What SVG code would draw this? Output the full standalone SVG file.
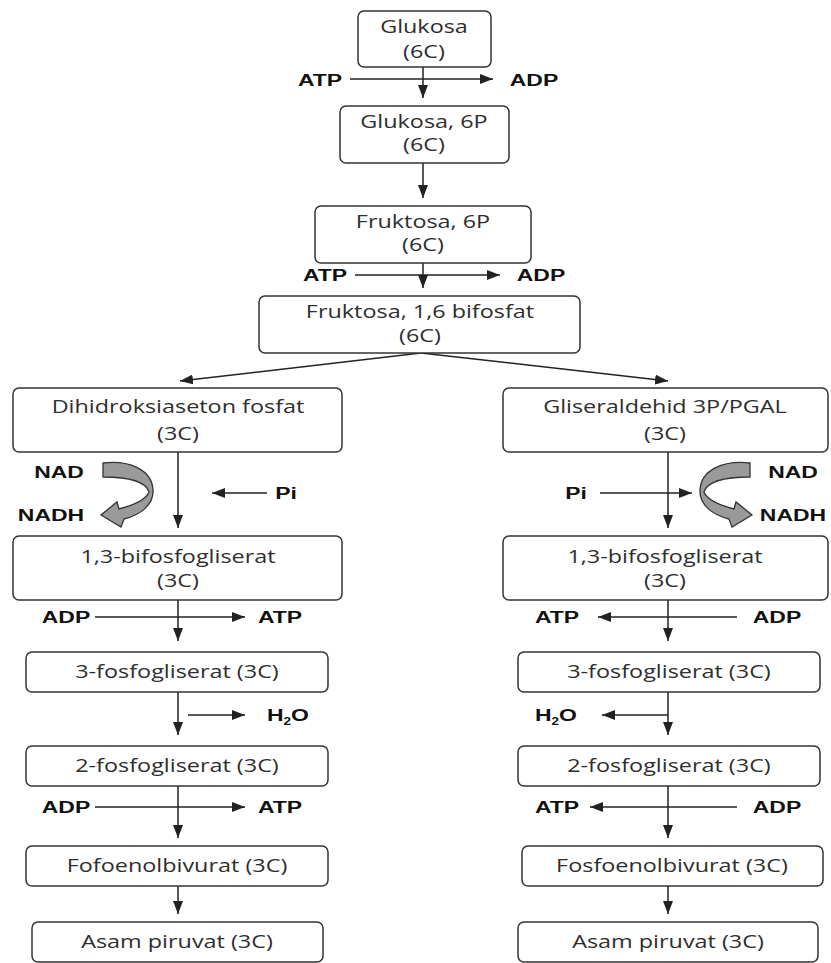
<svg xmlns="http://www.w3.org/2000/svg" width="831" height="963" viewBox="0 0 831 963">
<defs>
<style>
text { transform-box: fill-box; transform-origin: center; }
.b { fill: #fff; stroke: #333; stroke-width: 1.5; }
.t { font-family: "Open Sans", "Liberation Sans", sans-serif; font-size: 18px; fill: #2e2e2e; text-anchor: middle; transform: scaleX(1.3); }
.l { font-family: "Liberation Sans", Arial, sans-serif; font-weight: bold; font-size: 17px; fill: #111; text-anchor: middle; transform: scaleX(1.35); }
.c line { stroke: #222; stroke-width: 1.5; fill: none; }
.ca { marker-end: url(#ah); }
.g { fill: #9a9a9a; stroke: #333; stroke-width: 1.3; }
</style>
<marker id="ah" markerUnits="userSpaceOnUse" markerWidth="13" markerHeight="10" refX="13" refY="5" orient="auto">
<path d="M0,0 L13,5 L0,10 Z" fill="#222"/>
</marker>
</defs>
<rect width="831" height="963" fill="#fff"/>

<g id="connectors" class="c">
<line class="ca" x1="423" y1="67" x2="423" y2="98"/>
<line class="ca" x1="350" y1="79" x2="493" y2="79"/>
<line class="ca" x1="423" y1="163" x2="423" y2="198"/>
<line class="ca" x1="423" y1="263" x2="423" y2="288"/>
<line class="ca" x1="355" y1="275" x2="500" y2="275"/>
<line class="ca" x1="421" y1="353" x2="180" y2="381"/>
<line class="ca" x1="421" y1="353" x2="668" y2="381"/>
<line class="ca" x1="178" y1="452" x2="178" y2="528"/>
<line class="ca" x1="267" y1="493" x2="212" y2="493"/>
<line class="ca" x1="668" y1="452" x2="668" y2="528"/>
<line class="ca" x1="600" y1="493" x2="692" y2="493"/>
<line class="ca" x1="178" y1="600" x2="178" y2="641"/>
<line class="ca" x1="95" y1="617" x2="245" y2="617"/>
<line class="ca" x1="668" y1="600" x2="668" y2="641"/>
<line class="ca" x1="737" y1="617" x2="598" y2="617"/>
<line class="ca" x1="178" y1="692" x2="178" y2="735"/>
<line class="ca" x1="188" y1="715" x2="245" y2="715"/>
<line class="ca" x1="668" y1="692" x2="668" y2="735"/>
<line class="ca" x1="668" y1="715" x2="602" y2="715"/>
<line class="ca" x1="178" y1="786" x2="178" y2="838"/>
<line class="ca" x1="95" y1="807" x2="245" y2="807"/>
<line class="ca" x1="668" y1="786" x2="668" y2="838"/>
<line class="ca" x1="737" y1="807" x2="590" y2="807"/>
<line class="ca" x1="178" y1="886" x2="178" y2="914"/>
<line class="ca" x1="668" y1="886" x2="668" y2="914"/>
<path class="g" d="M103,463 C130,460 152,470 153,490 C154,505 140,515 124,519 L121,527 L101,515 L117,502 L119,509 C134,505 146,500 149,492 C146,482 132,477 103,477 Z"/>
<path class="g" transform="translate(853,0) scale(-1,1)" d="M103,463 C130,460 152,470 153,490 C154,505 140,515 124,519 L121,527 L101,515 L117,502 L119,509 C134,505 146,500 149,492 C146,482 132,477 103,477 Z"/>
</g>

<g id="labels">
<text class="l" x="320" y="86">ATP</text>
<text class="l" x="534" y="86">ADP</text>
<text class="l" x="325" y="281">ATP</text>
<text class="l" x="541" y="281">ADP</text>
<text class="l" x="59" y="478">NAD</text>
<text class="l" x="51" y="521">NADH</text>
<text class="l" x="286" y="499">Pi</text>
<text class="l" x="576" y="499">Pi</text>
<text class="l" x="793" y="478">NAD</text>
<text class="l" x="793" y="521">NADH</text>
<text class="l" x="66" y="623">ADP</text>
<text class="l" x="280" y="623">ATP</text>
<text class="l" x="557" y="623">ATP</text>
<text class="l" x="777" y="623">ADP</text>
<text class="l" x="288" y="721">H<tspan font-size="10" dy="4">2</tspan><tspan dy="-4">O</tspan></text>
<text class="l" x="556" y="721">H<tspan font-size="10" dy="4">2</tspan><tspan dy="-4">O</tspan></text>
<text class="l" x="66" y="813">ADP</text>
<text class="l" x="280" y="813">ATP</text>
<text class="l" x="557" y="813">ATP</text>
<text class="l" x="777" y="813">ADP</text>
</g>

<g id="glukosa"><rect class="b" x="358" y="11" width="133" height="56" rx="6"/><text class="t" x="424" y="33">Glukosa</text><text class="t" x="424" y="58">(6C)</text></g>
<g id="glukosa6p"><rect class="b" x="340" y="106" width="169" height="57" rx="6"/><text class="t" x="424" y="128">Glukosa, 6P</text><text class="t" x="424" y="151">(6C)</text></g>
<g id="fruktosa6p"><rect class="b" x="315" y="206" width="216" height="57" rx="6"/><text class="t" x="423" y="228">Fruktosa, 6P</text><text class="t" x="423" y="251">(6C)</text></g>
<g id="fruktosa16"><rect class="b" x="259" y="296" width="321" height="57" rx="6"/><text class="t" x="420" y="318">Fruktosa, 1,6 bifosfat</text><text class="t" x="420" y="342">(6C)</text></g>
<g id="dihidroksiaseton"><rect class="b" x="13" y="388" width="329" height="64" rx="6"/><text class="t" x="178" y="413">Dihidroksiaseton fosfat</text><text class="t" x="178" y="440">(3C)</text></g>
<g id="gliseraldehid"><rect class="b" x="503" y="388" width="325" height="64" rx="6"/><text class="t" x="665" y="413">Gliseraldehid 3P/PGAL</text><text class="t" x="665" y="440">(3C)</text></g>
<g id="bifosfo-l"><rect class="b" x="13" y="536" width="329" height="64" rx="6"/><text class="t" x="178" y="563">1,3-bifosfogliserat</text><text class="t" x="178" y="587">(3C)</text></g>
<g id="bifosfo-r"><rect class="b" x="503" y="536" width="325" height="64" rx="6"/><text class="t" x="665" y="563">1,3-bifosfogliserat</text><text class="t" x="665" y="587">(3C)</text></g>
<g id="fosfo3-l"><rect class="b" x="26" y="652" width="302" height="40" rx="6"/><text class="t" x="177" y="678">3-fosfogliserat (3C)</text></g>
<g id="fosfo3-r"><rect class="b" x="518" y="652" width="302" height="40" rx="6"/><text class="t" x="669" y="678">3-fosfogliserat (3C)</text></g>
<g id="fosfo2-l"><rect class="b" x="26" y="746" width="302" height="40" rx="6"/><text class="t" x="177" y="772">2-fosfogliserat (3C)</text></g>
<g id="fosfo2-r"><rect class="b" x="518" y="746" width="302" height="40" rx="6"/><text class="t" x="669" y="772">2-fosfogliserat (3C)</text></g>
<g id="pep-l"><rect class="b" x="26" y="846" width="302" height="40" rx="6"/><text class="t" x="177" y="872">Fofoenolbivurat (3C)</text></g>
<g id="pep-r"><rect class="b" x="522" y="846" width="301" height="40" rx="6"/><text class="t" x="672" y="872">Fosfoenolbivurat (3C)</text></g>
<g id="piruvat-l"><rect class="b" x="32" y="922" width="291" height="40" rx="6"/><text class="t" x="177" y="948">Asam piruvat (3C)</text></g>
<g id="piruvat-r"><rect class="b" x="518" y="922" width="300" height="40" rx="6"/><text class="t" x="668" y="948">Asam piruvat (3C)</text></g>
</svg>
